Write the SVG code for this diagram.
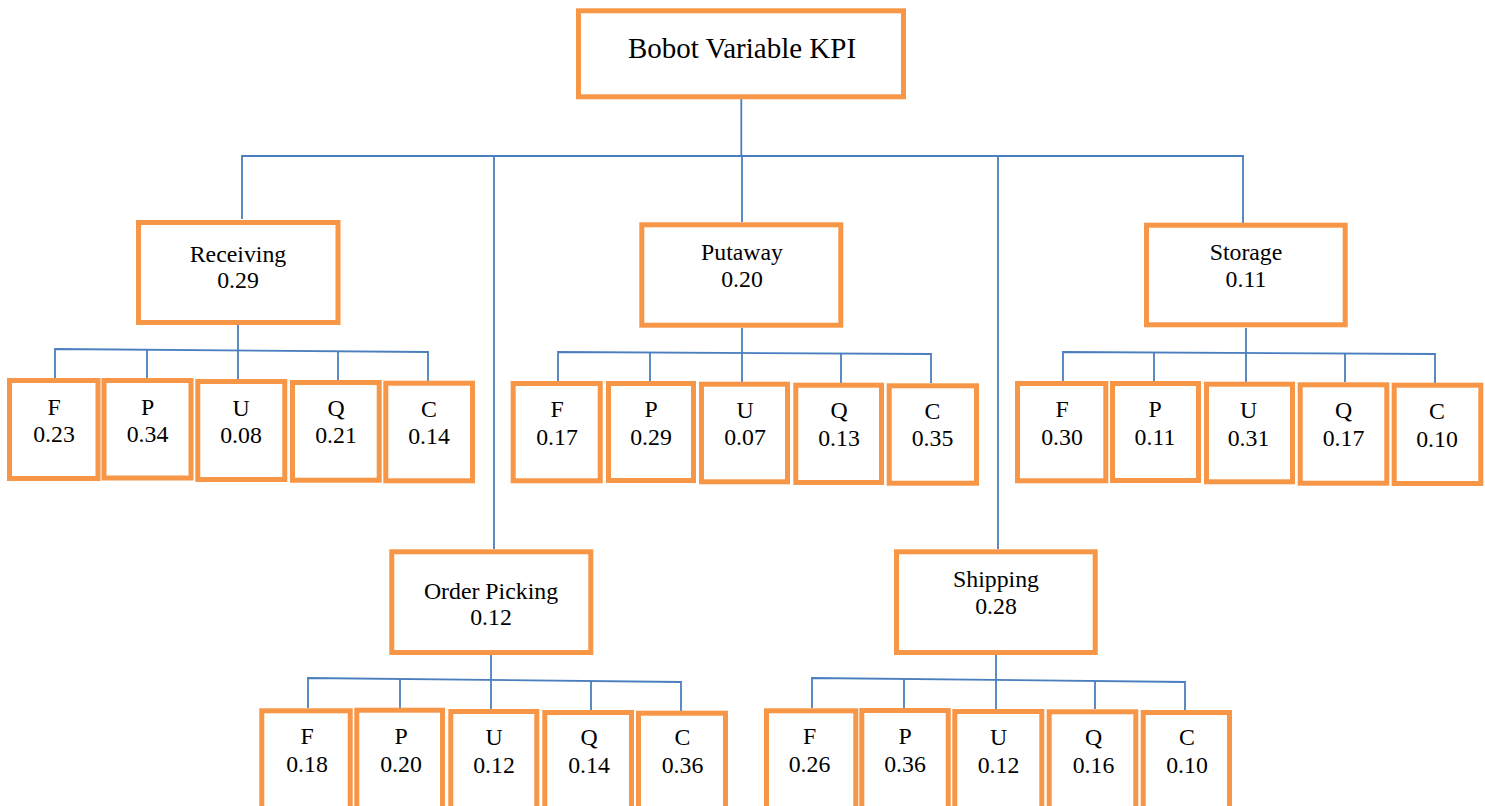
<svg xmlns="http://www.w3.org/2000/svg" width="1485" height="806" viewBox="0 0 1485 806">
<style>
.box{fill:#fff;stroke:#F79646;stroke-width:5}
.t{font-family:"Liberation Serif","Times New Roman",serif;font-size:23.8px;fill:#000;text-anchor:middle}
.root{font-size:29px}
.c{fill:none;stroke:#4A7EBF;stroke-width:1.8}
</style>
<rect width="1485" height="806" fill="#fff"/>
<g id="connectors">
<polyline class="c" points="741.3,99 741.3,156"/>
<polyline class="c" points="242,219 242,156 1243,156 1243,223"/>
<polyline class="c" points="742,156 742,222"/>
<polyline class="c" points="494,156 494,549"/>
<polyline class="c" points="998,156 998,549"/>
<!-- Receiving -->
<polyline class="c" points="238,324 238,379"/>
<polyline class="c" points="55,378 55,349 428,352 428,381"/>
<polyline class="c" points="147,350 147,378"/>
<polyline class="c" points="338,351 338,380"/>
<!-- Putaway -->
<polyline class="c" points="742,328 742,382"/>
<polyline class="c" points="558,381 558,352 931,354 931,383"/>
<polyline class="c" points="650,352 650,381"/>
<polyline class="c" points="841,353 841,383"/>
<!-- Storage -->
<polyline class="c" points="1246,328 1246,382"/>
<polyline class="c" points="1063,381 1063,352 1435,354 1435,383"/>
<polyline class="c" points="1154,352 1154,381"/>
<polyline class="c" points="1345,353 1345,382"/>
<!-- Order Picking -->
<polyline class="c" points="491,655 491,709"/>
<polyline class="c" points="308,708 308,678 681,682 681,711"/>
<polyline class="c" points="400,679 400,708"/>
<polyline class="c" points="591,681 591,710"/>
<!-- Shipping -->
<polyline class="c" points="996,655 996,709"/>
<polyline class="c" points="812,708 812,678 1185,682 1185,710"/>
<polyline class="c" points="904,679 904,708"/>
<polyline class="c" points="1095,681 1095,709"/>
</g>
<g id="root"><rect class="box" x="578.5" y="10.8" width="325" height="86"/><text class="t root" x="742" y="57.5">Bobot Variable KPI</text></g>
<g id="receiving"><rect class="box" x="138.5" y="222.5" width="199.5" height="100"/><text class="t" x="238" y="261.5">Receiving</text><text class="t" x="238" y="287.5">0.29</text></g>
<g id="putaway"><rect class="box" x="641.8" y="224.8" width="199" height="100.4"/><text class="t" x="742" y="259.5">Putaway</text><text class="t" x="742" y="287">0.20</text></g>
<g id="storage"><rect class="box" x="1146.5" y="225.2" width="198.7" height="99.6"/><text class="t" x="1246" y="259.5">Storage</text><text class="t" x="1246" y="287">0.11</text></g>
<g id="orderpicking"><rect class="box" x="391.8" y="551.8" width="199" height="100.7"/><text class="t" x="491" y="599">Order Picking</text><text class="t" x="491" y="625">0.12</text></g>
<g id="shipping"><rect class="box" x="896.5" y="551.8" width="198.7" height="100.7"/><text class="t" x="996" y="587">Shipping</text><text class="t" x="996" y="614">0.28</text></g>
<!-- Receiving leaves -->
<g id="rec-f"><rect class="box" x="9.5" y="380.5" width="88.5" height="98"/><text class="t" x="54" y="415">F</text><text class="t" x="54" y="442">0.23</text></g>
<g id="rec-p"><rect class="box" x="104" y="380.5" width="87" height="97.5"/><text class="t" x="147.5" y="415">P</text><text class="t" x="147.5" y="442">0.34</text></g>
<g id="rec-u"><rect class="box" x="197.8" y="381.5" width="87" height="98"/><text class="t" x="241" y="415.5">U</text><text class="t" x="241" y="442.5">0.08</text></g>
<g id="rec-q"><rect class="box" x="292.5" y="382.5" width="86.7" height="97.7"/><text class="t" x="336" y="416">Q</text><text class="t" x="336" y="443">0.21</text></g>
<g id="rec-c"><rect class="box" x="385.8" y="383.2" width="86.7" height="97.6"/><text class="t" x="429" y="416.5">C</text><text class="t" x="429" y="443.5">0.14</text></g>
<!-- Putaway leaves -->
<g id="put-f"><rect class="box" x="513.2" y="383.5" width="87" height="97.3"/><text class="t" x="557" y="417">F</text><text class="t" x="557" y="444.5">0.17</text></g>
<g id="put-p"><rect class="box" x="608.5" y="383.5" width="85" height="97"/><text class="t" x="651" y="417">P</text><text class="t" x="651" y="444.5">0.29</text></g>
<g id="put-u"><rect class="box" x="701.5" y="384.2" width="86" height="97.6"/><text class="t" x="745" y="417.5">U</text><text class="t" x="745" y="445">0.07</text></g>
<g id="put-q"><rect class="box" x="795.8" y="385.2" width="85.7" height="97.3"/><text class="t" x="839" y="418">Q</text><text class="t" x="839" y="445.5">0.13</text></g>
<g id="put-c"><rect class="box" x="889.2" y="385.8" width="87.3" height="97.4"/><text class="t" x="932.5" y="418.5">C</text><text class="t" x="932.5" y="446">0.35</text></g>
<!-- Storage leaves -->
<g id="sto-f"><rect class="box" x="1017.5" y="383.5" width="88.3" height="97.3"/><text class="t" x="1062" y="417">F</text><text class="t" x="1062" y="445">0.30</text></g>
<g id="sto-p"><rect class="box" x="1112.5" y="383.5" width="86" height="97"/><text class="t" x="1155" y="417">P</text><text class="t" x="1155" y="445">0.11</text></g>
<g id="sto-u"><rect class="box" x="1206.5" y="384.2" width="86" height="97.6"/><text class="t" x="1248.5" y="417.5">U</text><text class="t" x="1248.5" y="445.5">0.31</text></g>
<g id="sto-q"><rect class="box" x="1300.2" y="384.8" width="86.6" height="98.4"/><text class="t" x="1343.5" y="418">Q</text><text class="t" x="1343.5" y="446">0.17</text></g>
<g id="sto-c"><rect class="box" x="1394.2" y="385.2" width="86.6" height="98.3"/><text class="t" x="1437" y="418.5">C</text><text class="t" x="1437" y="446.5">0.10</text></g>
<!-- Order Picking leaves -->
<g id="op-f"><rect class="box" x="261.8" y="710.8" width="88.4" height="110"/><text class="t" x="307" y="744">F</text><text class="t" x="307" y="772">0.18</text></g>
<g id="op-p"><rect class="box" x="356.8" y="710.2" width="85.7" height="110"/><text class="t" x="401" y="744">P</text><text class="t" x="401" y="772">0.20</text></g>
<g id="op-u"><rect class="box" x="450.8" y="711.5" width="86" height="110"/><text class="t" x="494" y="744.5">U</text><text class="t" x="494" y="772.5">0.12</text></g>
<g id="op-q"><rect class="box" x="544.8" y="712.5" width="86.7" height="110"/><text class="t" x="589" y="745">Q</text><text class="t" x="589" y="773">0.14</text></g>
<g id="op-c"><rect class="box" x="638.5" y="713.2" width="87" height="110"/><text class="t" x="682.5" y="745">C</text><text class="t" x="682.5" y="773">0.36</text></g>
<!-- Shipping leaves -->
<g id="sh-f"><rect class="box" x="766.5" y="710.8" width="89.3" height="110"/><text class="t" x="809.5" y="744">F</text><text class="t" x="809.5" y="772">0.26</text></g>
<g id="sh-p"><rect class="box" x="861.8" y="710.5" width="86.4" height="110"/><text class="t" x="905" y="744">P</text><text class="t" x="905" y="772">0.36</text></g>
<g id="sh-u"><rect class="box" x="954.8" y="711.5" width="87" height="110"/><text class="t" x="998.5" y="744.5">U</text><text class="t" x="998.5" y="772.5">0.12</text></g>
<g id="sh-q"><rect class="box" x="1049.2" y="711.8" width="86.6" height="110"/><text class="t" x="1093.5" y="745">Q</text><text class="t" x="1093.5" y="773">0.16</text></g>
<g id="sh-c"><rect class="box" x="1143.2" y="712.5" width="86.3" height="110"/><text class="t" x="1187" y="745">C</text><text class="t" x="1187" y="773">0.10</text></g>
</svg>
